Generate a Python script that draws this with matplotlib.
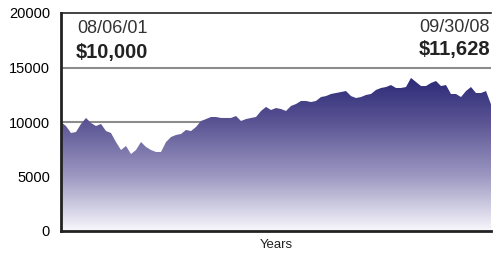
import matplotlib
matplotlib.use("Agg")
import matplotlib.pyplot as plt
import numpy as np
from matplotlib.colors import LinearSegmentedColormap

# Wertentwicklung von 10.000 $ (ca. monatlich)
values = [10000, 9630, 8990, 9080, 9820, 10370, 9910, 9630, 9820, 9170,
          8990, 8160, 7430, 7800, 7060, 7430, 8160, 7710, 7430, 7250,
          7250, 8160, 8620, 8810, 8900, 9270, 9170, 9540, 10090, 10270,
          10460, 10460, 10370, 10370, 10370, 10550, 10090, 10270, 10370, 10460,
          11010, 11380, 11100, 11280, 11190, 11010, 11470, 11650, 11930, 11930,
          11830, 11930, 12290, 12380, 12570, 12660, 12750, 12840, 12380, 12200,
          12290, 12480, 12570, 12940, 13120, 13210, 13390, 13120, 13120, 13210,
          14040, 13670, 13300, 13300, 13580, 13760, 13300, 13390, 12570, 12570,
          12290, 12840, 13210, 12660, 12660, 12840, 11628]
yticks = [0, 5000, 10000, 15000, 20000]
start_date, start_val = "08/06/01", "$10,000"
end_date, end_val = "09/30/08", "$11,628"

x = np.arange(len(values))

fig = plt.figure(figsize=(4.93, 2.58), dpi=100)
ax = fig.add_axes([61/493, 1-231/258, 430/493, 218/258])
ax.set_xlim(0, len(values) - 1)
ax.set_ylim(0, 20000)

# Gitterlinien hinter der Fläche
for y in [5000, 10000, 15000]:
    ax.axhline(y, color="#8c8c8c", linewidth=1.5, zorder=1)

# Fläche mit Farbverlauf
cmap = LinearSegmentedColormap.from_list(
    "blau", [(0, "#f8f7fc"), (0.35, "#9d99c2"), (0.7, "#5b5594"), (1, "#2a2776")])
poly = ax.fill_between(x, values, 0, color="none", zorder=2)
grad = np.linspace(0, 1, 256).reshape(-1, 1)
img = ax.imshow(grad, cmap=cmap, origin="lower", aspect="auto",
                extent=[0, len(values) - 1, 0, 14200], zorder=2)
img.set_clip_path(poly.get_paths()[0], transform=ax.transData)

ax.spines["right"].set_visible(False)
ax.spines["left"].set_linewidth(2)
ax.spines["bottom"].set_linewidth(2)
ax.spines["top"].set_linewidth(1.2)
for s in ["left", "bottom", "top"]:
    ax.spines[s].set_color("#222222")
    ax.spines[s].set_zorder(3)

ax.set_yticks(yticks)
ax.set_yticklabels([str(t) for t in yticks], fontsize=10.5, family="Liberation Sans")
ax.tick_params(axis="y", length=0, pad=8)
ax.set_xticks([])
ax.set_xlabel("Years", fontsize=9.5, family="Liberation Sans", labelpad=6, color="#222222")

fam = "Liberation Sans"
ax.text(0.037, 0.968, start_date, transform=ax.transAxes, fontsize=13, family=fam,
        color="#333333", ha="left", va="top")
ax.text(0.033, 0.862, start_val, transform=ax.transAxes, fontsize=14.5, family=fam,
        fontweight="bold", color="#222222", ha="left", va="top")
ax.text(0.998, 0.972, end_date, transform=ax.transAxes, fontsize=13, family=fam,
        color="#333333", ha="right", va="top")
ax.text(0.998, 0.876, end_val, transform=ax.transAxes, fontsize=14.5, family=fam,
        fontweight="bold", color="#222222", ha="right", va="top")

fig.savefig("out.png", dpi=100)
